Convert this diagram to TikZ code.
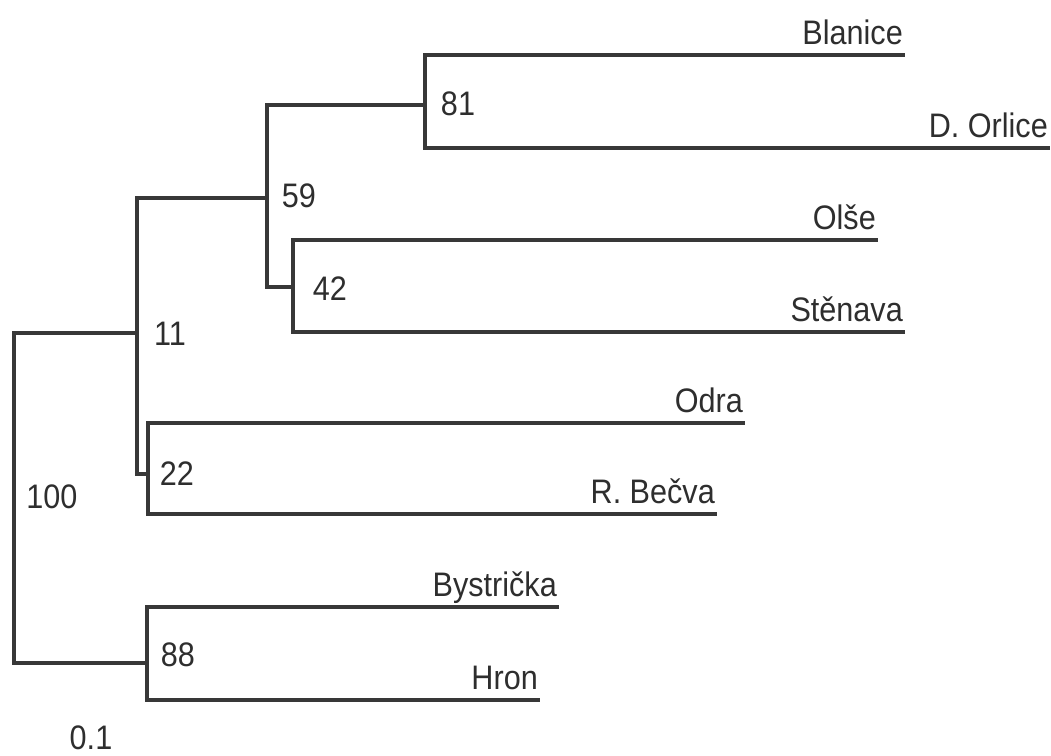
\documentclass[tikz,border=0pt]{standalone}
\usepackage{fontspec}
\setmainfont{Liberation Sans}[FakeStretch=0.9]
\definecolor{branch}{HTML}{383838}
\definecolor{labelink}{HTML}{2E2E2E}
\begin{document}
\begin{tikzpicture}[x=1pt,y=-1pt,
  edge/.style={draw=branch,line width=3.2pt,line join=miter,line cap=rect},
  support/.style={text=labelink,font=\fontsize{34}{40}\selectfont,inner sep=0pt},
  taxon/.style={text=labelink,font=\fontsize{34}{40}\selectfont,inner sep=0pt,anchor=base east,yshift=11pt}]
  \useasboundingbox[fill=white] (0,0) rectangle (1051,755);

  % inner nodes of the tree (vertical bar x, junction y with parent)
  \coordinate (croot) at (14,498);
  \coordinate (c11) at (137,333);
  \coordinate (c59) at (267,198);
  \coordinate (c81) at (425,105);
  \coordinate (c42) at (293,287);
  \coordinate (c22) at (148,474);
  \coordinate (c88) at (147,663);

  % branch tips
  \coordinate (tBlanice) at (903,55);
  \coordinate (tOrlice) at (1048,148);
  \coordinate (tOlse) at (876,240);
  \coordinate (tStenava) at (903,332);
  \coordinate (tOdra) at (743,423);
  \coordinate (tBecva) at (715,514);
  \coordinate (tBystricka) at (557,607);
  \coordinate (tHron) at (538,700);

  % branches
  \draw[edge] (tBlanice) -| (c81) |- (tOrlice);
  \draw[edge] (tOlse) -| (c42) |- (tStenava);
  \draw[edge] (tOdra) -| (c22) |- (tBecva);
  \draw[edge] (tBystricka) -| (c88) |- (tHron);
  \draw[edge] (c81) -| (c59) |- (c42);
  \draw[edge] (c59) -| (c11) |- (c22);
  \draw[edge] (c11) -| (croot) |- (c88);

  % taxon names
  \node[taxon] (lBlanice) at (tBlanice) {Blanice};
  \node[taxon] (lOrlice) at (tOrlice) {D. Orlice};
  \node[taxon] (lOlse) at (tOlse) {Olše};
  \node[taxon] (lStenava) at (tStenava) {Stěnava};
  \node[taxon] (lOdra) at (tOdra) {Odra};
  \node[taxon] (lBecva) at (tBecva) {R. Bečva};
  \node[taxon] (lBystricka) at (tBystricka) {Bystrička};
  \node[taxon] (lHron) at (tHron) {Hron};

  % bootstrap support values
  \node[support] (s100) at (52,497) {100};
  \node[support] (s11) at (170,334) {11};
  \node[support] (s59) at (299,196) {59};
  \node[support] (s81) at (458,104) {81};
  \node[support] (s42) at (330,289) {42};
  \node[support] (s22) at (177,474) {22};
  \node[support] (s88) at (178,655) {88};

  % scale value
  \node[support] (scale) at (91,738) {0.1};
\end{tikzpicture}
\end{document}
